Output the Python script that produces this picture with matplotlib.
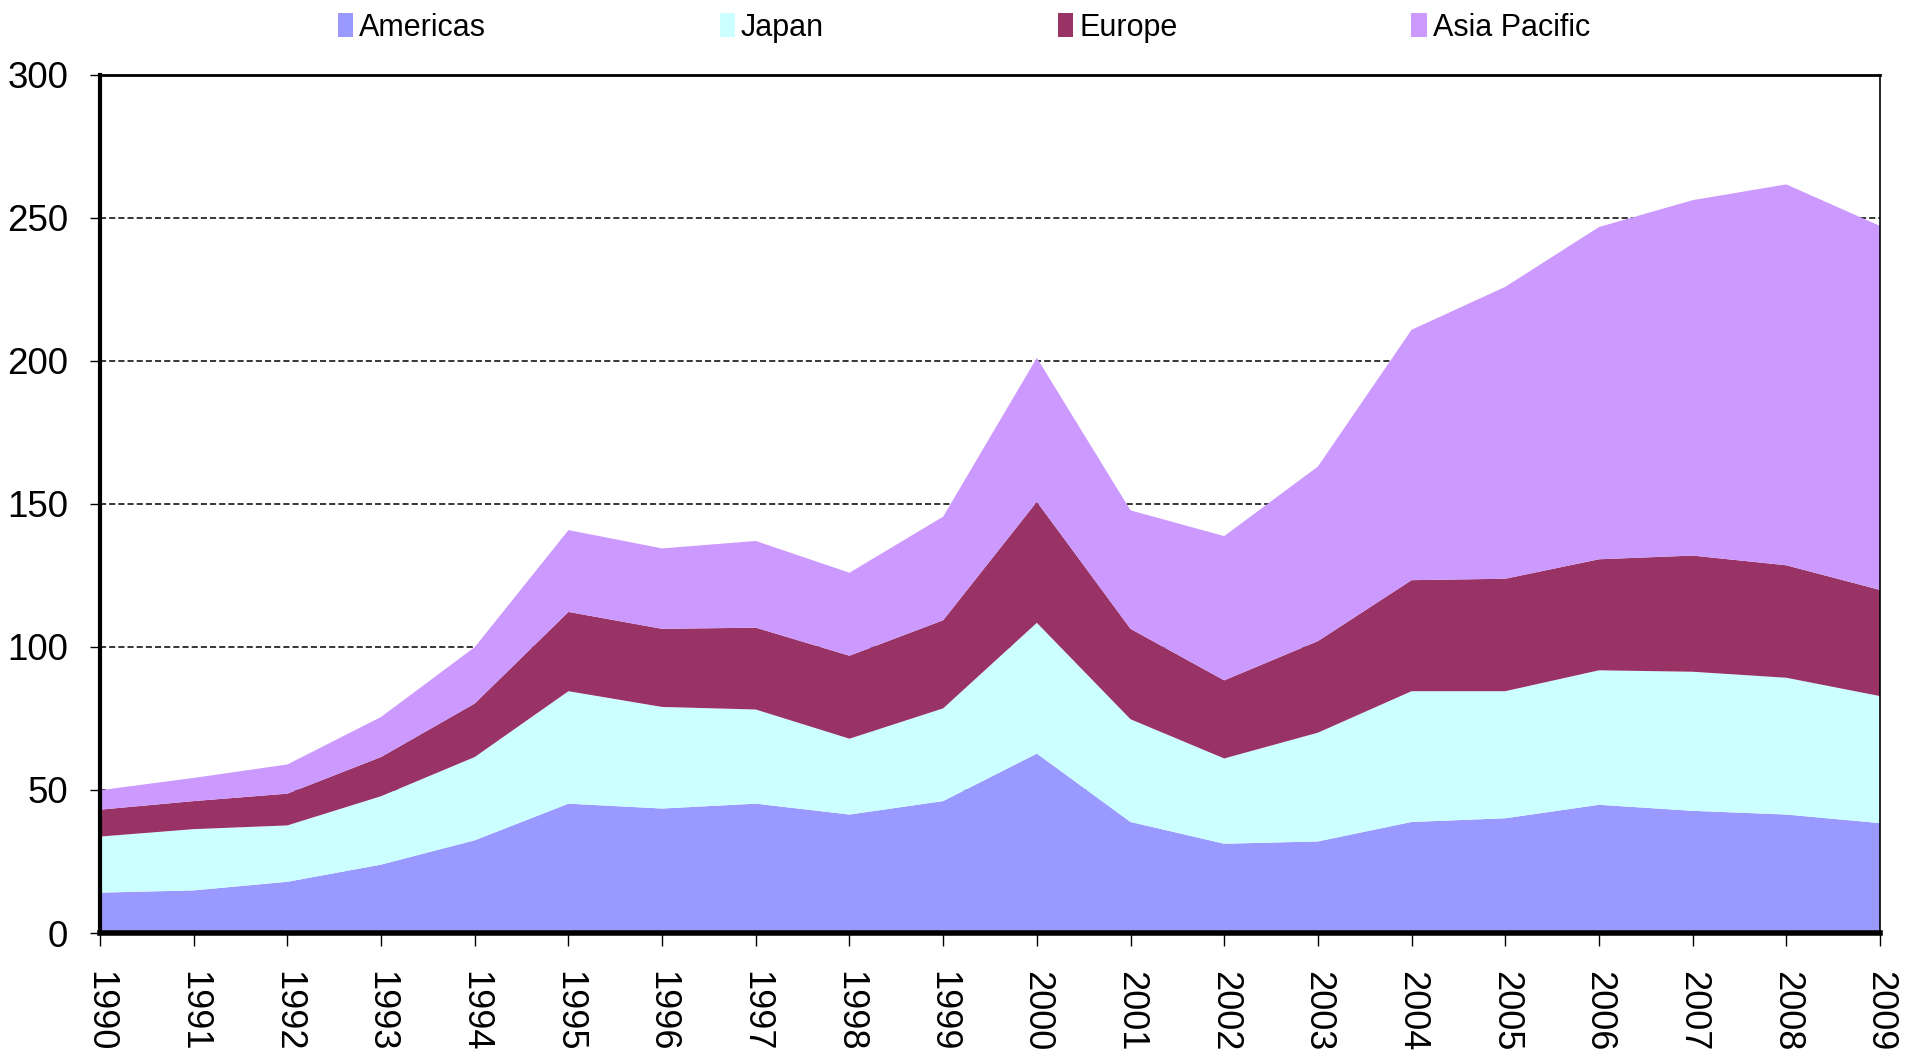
import numpy as np
import matplotlib.pyplot as plt
from matplotlib.patches import Patch

years = list(range(1990, 2010))
americas = [14.1, 14.9, 17.9, 23.9, 32.4, 45.2, 43.5, 45.2, 41.4, 46.1,
            62.7, 38.8, 31.2, 32.0, 38.8, 40.1, 44.8, 42.7, 41.4, 38.4]
japan = [19.6, 21.4, 19.7, 23.9, 29.1, 39.3, 35.5, 32.9, 26.5, 32.4,
         45.7, 35.9, 29.8, 38.0, 45.7, 44.4, 47.0, 48.6, 47.8, 44.4]
europe = [9.4, 9.8, 11.1, 13.7, 18.7, 27.7, 27.3, 28.6, 29.0, 30.8,
          42.3, 31.6, 27.3, 32.0, 38.8, 39.3, 38.8, 40.6, 39.3, 37.1]
asia_pacific = [6.8, 8.1, 10.2, 14.0, 19.7, 28.6, 28.1, 30.3, 29.0, 36.2,
                50.3, 41.4, 50.4, 61.0, 87.5, 102.0, 116.1, 124.2, 133.1, 127.2]

labels = ['Americas', 'Japan', 'Europe', 'Asia Pacific']
colors = ['#9999FF', '#CCFFFF', '#993366', '#CC99FF']

plt.rcParams['font.family'] = ['Liberation Sans', 'DejaVu Sans']

fig = plt.figure(figsize=(19.16, 10.57), dpi=100)
ax = fig.add_axes([0.0522, 0.1173, 0.929, 0.8122])

ax.stackplot(years, americas, japan, europe, asia_pacific,
             colors=colors, linewidth=0, zorder=2)

ax.set_xlim(1990, 2009)
ax.set_ylim(0, 300)
ax.set_yticks(range(0, 301, 50))
ax.set_xticks(years)
ax.set_xticklabels([str(y) for y in years], rotation=-90, va='top', ha='center')

ax.grid(axis='y', color='black', linestyle=(0, (4, 2)), linewidth=1.1, zorder=1)
ax.set_axisbelow(True)

ax.spines['left'].set_linewidth(3)
ax.spines['bottom'].set_linewidth(4)
ax.spines['top'].set_linewidth(2)
ax.spines['right'].set_linewidth(1.2)
for s in ax.spines.values():
    s.set_zorder(5)

ax.tick_params(axis='x', direction='out', length=9.5, width=1, pad=18, labelsize=26)
ax.tick_params(axis='y', direction='out', length=7, width=1, pad=16, labelsize=26.5)

handles = [Patch(facecolor=c, edgecolor='none') for c in colors]
fig.legend(handles, labels, loc='upper center', bbox_to_anchor=(0.503, 1.014),
           ncol=4, frameon=False, handlelength=0.5, handleheight=0.85,
           handletextpad=0.2, columnspacing=7.65,
           prop={'family': ['Liberation Sans Narrow', 'Liberation Sans'], 'size': 22})

fig.savefig('out.png', dpi=100)
